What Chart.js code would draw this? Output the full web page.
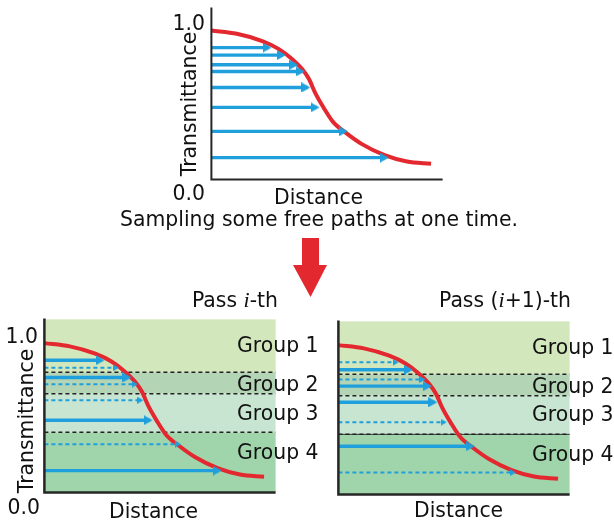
<!DOCTYPE html>
<html>
<head>
<meta charset="utf-8">
<script src="https://cdn.jsdelivr.net/npm/chart.js@4.4.0/dist/chart.umd.min.js"></script>
<style>
body { margin: 0; background: #fff; width: 614px; height: 527px; position: relative; overflow: hidden;
  font-family: "DejaVu Sans", sans-serif; color: #111; }
canvas { position: absolute; }
.t { position: absolute; font-size: 20.4px; line-height: 20px; white-space: nowrap; }
.r { text-align: right; }
.v { width: 160px; height: 20px; text-align: center; transform: rotate(-90deg); }
.i { font-family: "Liberation Serif", serif; font-style: italic; font-size: 22px; }
</style>
</head>
<body>
<canvas id="top" width="248" height="188" style="left:203px;top:0px"></canvas>
<canvas id="passA" width="248" height="190" style="left:36px;top:311px"></canvas>
<canvas id="passB" width="248" height="190" style="left:330px;top:313px"></canvas>

<div class="t r" style="left:160px;top:13px;width:45px">1.0</div>
<div class="t r" style="left:160px;top:183px;width:45px">0.0</div>
<div class="t v" style="left:109px;top:94px">Transmittance</div>
<div class="t" style="left:274px;top:187px">Distance</div>
<div class="t" style="left:120px;top:209px">Sampling some free paths at one time.</div>

<svg style="position:absolute;left:290px;top:236px" width="40" height="64">
  <polygon points="12,2 29,2 29,29 37,29 20.5,61 3,29 12,29" fill="#e3282f"/>
</svg>

<div class="t r" style="left:128px;top:290px;width:150px">Pass <span class="i">i</span>-th</div>
<div class="t" style="left:439px;top:290px">Pass (<span class="i">i</span>+1)-th</div>

<div class="t r" style="left:0px;top:326px;width:38px">1.0</div>
<div class="t r" style="left:0px;top:497px;width:40px">0.0</div>
<div class="t v" style="left:-54px;top:411px">Transmittance</div>
<div class="t" style="left:109px;top:501px">Distance</div>
<div class="t" style="left:414px;top:500px">Distance</div>

<div class="t" style="left:237px;top:335px">Group 1</div>
<div class="t" style="left:237px;top:374px">Group 2</div>
<div class="t" style="left:237px;top:403px">Group 3</div>
<div class="t" style="left:237px;top:442px">Group 4</div>
<div class="t" style="left:532px;top:337px">Group 1</div>
<div class="t" style="left:532px;top:376px">Group 2</div>
<div class="t" style="left:532px;top:404px">Group 3</div>
<div class="t" style="left:532px;top:444px">Group 4</div>

<script>
// transmittance curve (distance 0-100, transmittance 0-1)
const curveX = [0, 11, 22, 29, 34.6, 39.4, 42.2, 45, 48.5, 52.6, 58.2, 65.1, 74.9, 84.6, 95]
const curveY = [0.958, 0.937, 0.89, 0.84, 0.778, 0.707, 0.646, 0.554, 0.463, 0.371, 0.30, 0.228, 0.157, 0.116, 0.102]

// sampled free paths: start transmittance and path length
const pathY = [0.848, 0.80, 0.738, 0.695, 0.592, 0.464, 0.31, 0.141]
const pathLength = [26, 32.2, 37.6, 40.4, 42.8, 46.8, 59, 76.7]

// which paths are solid in each pass
const passISolid = [0, 2, 5, 7]
const passIDashed = [1, 3, 4, 6]

const groupEdges = [0.771, 0.634, 0.386]
const groupColors = ['#d3e7bc', '#b4d4b6', '#c8e5d2', '#a0d4ab']

const red = '#e3282f'
const blue = '#1fa0dc'

function arrowHead(len, half, color) {
  const c = document.createElement('canvas')
  c.width = len * 2
  c.height = half * 2
  const ctx = c.getContext('2d')
  ctx.fillStyle = color
  ctx.beginPath()
  ctx.moveTo(0, 0)
  ctx.lineTo(len, half)
  ctx.lineTo(0, half * 2)
  ctx.closePath()
  ctx.fill()
  return c
}

const bigHead = arrowHead(9, 5, blue)
const smallHead = arrowHead(6, 3.5, blue)

function arrow(i, dashed) {
  const y = pathY[i]
  const end = pathLength[i]
  return {
    data: [{x: 0, y: y}, {x: end - (dashed ? 0.8 : 1.3), y: y}, {x: end, y: y}],
    borderColor: blue,
    borderWidth: dashed ? 2 : 3.4,
    borderDash: dashed ? [4, 3] : [],
    segment: { borderColor: ctx => ctx.p1DataIndex === 2 ? 'transparent' : blue },
    pointRadius: [0, 0, 5],
    pointStyle: dashed ? smallHead : bigHead,
    tension: 0,
    clip: false,
    order: 0
  }
}

function curve() {
  return {
    data: curveX.map((x, i) => ({x: x, y: curveY[i]})),
    borderColor: red,
    borderWidth: 4,
    pointRadius: 0,
    cubicInterpolationMode: 'monotone',
    clip: false,
    order: 1
  }
}

function groupLine(y, solid) {
  return {
    data: [{x: 0, y: y}, {x: 100, y: y}],
    borderColor: solid ? '#333' : '#222',
    borderWidth: solid ? 1 : 1.5,
    borderDash: solid ? [] : [4, 3],
    pointRadius: 0,
    clip: false,
    order: solid ? 3 : 2
  }
}

const framePlugin = {
  id: 'frame',
  beforeDatasetsDraw(chart, args, opts) {
    if (!opts.colors) return
    const ctx = chart.ctx
    const a = chart.chartArea
    const y = chart.scales.y
    const edges = [y.max].concat(groupEdges, [y.min])
    for (let i = 0; i < opts.colors.length; i++) {
      const top = y.getPixelForValue(edges[i])
      const bottom = y.getPixelForValue(edges[i + 1])
      ctx.fillStyle = opts.colors[i]
      ctx.fillRect(a.left, top, a.right - a.left, bottom - top)
    }
  },
  afterDatasetsDraw(chart, args, opts) {
    const ctx = chart.ctx
    const a = chart.chartArea
    ctx.save()
    ctx.strokeStyle = '#262626'
    ctx.lineWidth = opts.width || 2
    ctx.beginPath()
    ctx.moveTo(a.left, a.top - 1)
    ctx.lineTo(a.left, a.bottom)
    ctx.lineTo(a.right, a.bottom)
    ctx.stroke()
    ctx.restore()
  }
}

function makeChart(id, datasets, yMax, frame) {
  return new Chart(document.getElementById(id), {
    type: 'line',
    data: { datasets: datasets },
    options: {
      responsive: false,
      animation: false,
      events: [],
      layout: { padding: 4 },
      plugins: { legend: { display: false }, tooltip: { enabled: false }, frame: frame },
      scales: {
        x: { type: 'linear', display: false, min: 0, max: 100 },
        y: { display: false, min: 0, max: yMax }
      }
    },
    plugins: [framePlugin]
  })
}

// top: all sampled paths at once
const topSets = pathY.map((v, i) => arrow(i, false))
topSets.push(curve())
makeChart('top', topSets, 1.1, { width: 2 })

// pass i-th
const setsA = passISolid.map(i => arrow(i, false))
  .concat(passIDashed.map(i => arrow(i, true)))
setsA.push(curve())
groupEdges.forEach(e => setsA.push(groupLine(e, false)))
makeChart('passA', setsA, 1.11, { colors: groupColors, width: 2.5 })

// pass (i+1)-th: solid and dashed swap
const setsB = passIDashed.map(i => arrow(i, false))
  .concat(passISolid.map(i => arrow(i, true)))
setsB.push(curve())
groupEdges.forEach(e => setsB.push(groupLine(e, false)))
setsB.push(groupLine(groupEdges[2], true))
makeChart('passB', setsB, 1.11, { colors: groupColors, width: 2.5 })
</script>
</body>
</html>
